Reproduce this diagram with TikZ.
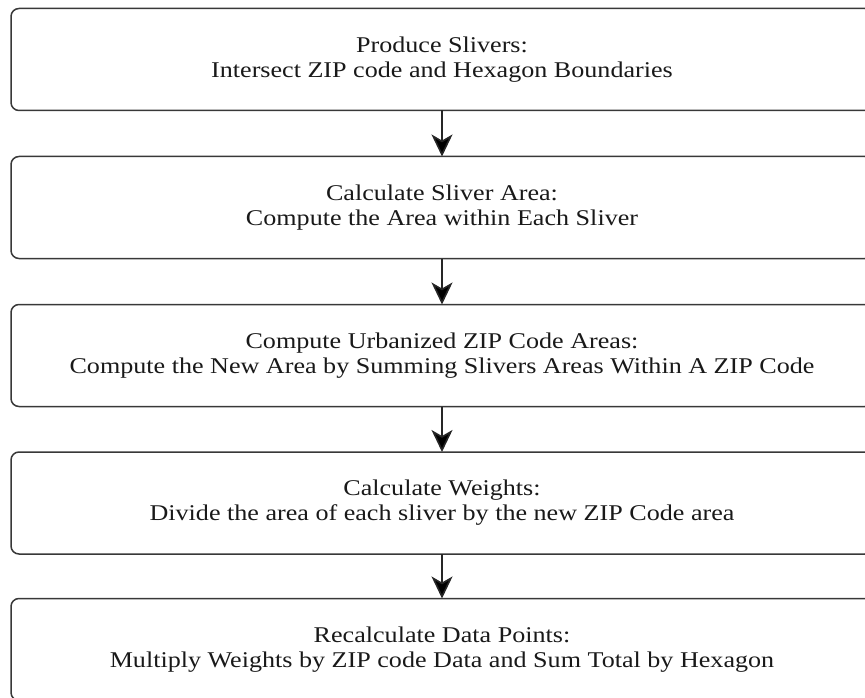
\documentclass[tikz,border=0pt]{standalone}
\usepackage{fontspec}
\setmainfont[FakeStretch=1.16]{Liberation Serif}
\usetikzlibrary{arrows.meta}
\tikzset{
  stepbox/.style={draw=black!78, line width=1.5pt, rounded corners=8pt, minimum width=862pt,
    minimum height=102pt, align=center, text=black!90, outer sep=0pt,
    font=\fontsize{22.5pt}{25pt}\selectfont},
  flow/.style={-{Stealth[length=22pt, width=21pt, inset=6pt, fill=black]}, line width=1.6pt, draw=black!85}
}
\begin{document}
\begin{tikzpicture}
            \useasboundingbox (0,0) rectangle (865pt,-698pt);

            \node[stepbox] (slivers) at (442pt,-59.5pt) {Produce Slivers:\\Intersect ZIP code and Hexagon Boundaries};
            \node[stepbox] (area) at (442pt,-207.5pt) {Calculate Sliver Area:\\Compute the Area within Each Sliver};
            \node[stepbox] (urban) at (442pt,-355.5pt) {Compute Urbanized ZIP Code Areas:\\Compute the New Area by Summing Slivers Areas Within A ZIP Code};
            \node[stepbox] (weights) at (442pt,-503pt) {Calculate Weights:\\Divide the area of each sliver by the new ZIP Code area};
            \node[stepbox] (recalc) at (442pt,-649.5pt) {Recalculate Data Points:\\Multiply Weights by ZIP code Data and Sum Total by Hexagon};

            \draw[flow] (slivers) -- (area);
            \draw[flow] (area) -- (urban);
            \draw[flow] (urban) -- (weights);
            \draw[flow] (weights) -- (recalc);
        \end{tikzpicture}
\end{document}
